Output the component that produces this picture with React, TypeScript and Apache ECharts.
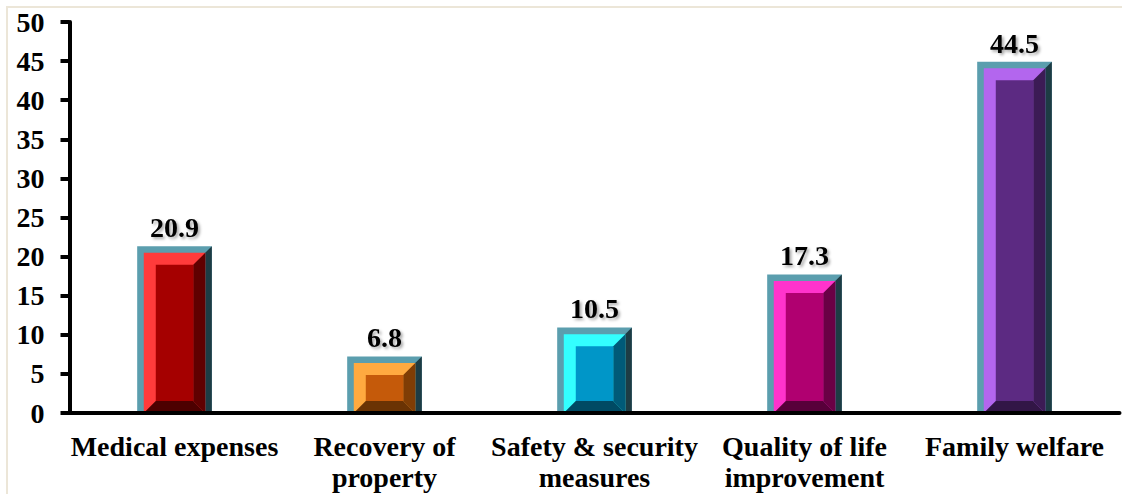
import React, { useEffect, useRef } from "react";
import * as echarts from "echarts";

const categories = [
  "Medical expenses",
  "Recovery of\nproperty",
  "Safety & security\nmeasures",
  "Quality of life\nimprovement",
  "Family welfare",
];
const values = [20.9, 6.8, 10.5, 17.3, 44.5];
const lightColors = ["#ff3b3b", "#ffaa40", "#33ffff", "#ff33cc", "#b366ee"];
const faceColors = ["#a50000", "#c55a0a", "#0096c8", "#b00070", "#5c2a82"];
const rightColors = ["#600000", "#7f3d05", "#005a78", "#6a0045", "#3c1b55"];
const bottomColors = ["#4d0000", "#6a3304", "#004a64", "#58003a", "#321646"];
const FRAME = "#5b9eae";
const FRAME_DARK = "#1d3c44";
const FONT = "'Liberation Serif', 'Times New Roman', serif";

export default function App() {
  const ref = useRef<HTMLDivElement>(null);
  useEffect(() => {
    if (!ref.current) return;
    const chart = echarts.init(ref.current, null, { renderer: "svg" });
    const renderItem = (params: any, api: any) => {
      const i = api.value(0);
      const v = api.value(1);
      const top = api.coord([i, v]);
      const base = api.coord([i, 0]);
      const w = api.size([1, 0])[0] * 0.324;
      const cx = top[0];
      const x0 = cx - w / 2;
      const x1 = cx + w / 2;
      const y0 = top[1];
      const y1 = base[1];
      const o = 3.3;
      const b = 12;
      const L = x0 - o, R = x1 + o, T = y0 - o, B = y1;
      const l = x0 + o, r = x1 - o, t = y0 + o;
      return {
        type: "group",
        children: [
          { type: "rect", shape: { x: L, y: T, width: R - L, height: B - T }, style: { fill: FRAME } },
          { type: "polygon", shape: { points: [[R, T], [R, B], [r, B], [r, t]] }, style: { fill: FRAME_DARK } },
          { type: "rect", shape: { x: l, y: t, width: r - l, height: B - t }, style: { fill: lightColors[i] } },
          { type: "polygon", shape: { points: [[r, t], [r, B], [r - b, B - b], [r - b, t + b]] }, style: { fill: rightColors[i] } },
          { type: "polygon", shape: { points: [[l, B], [r, B], [r - b, B - b], [l + b, B - b]] }, style: { fill: bottomColors[i] } },
          { type: "rect", shape: { x: l + b, y: t + b, width: r - l - 2 * b, height: Math.max(0, B - t - 2 * b) }, style: { fill: faceColors[i] } },
          {
            type: "text",
            x: cx,
            y: y0 - 8,
            style: {
              text: String(values[i]),
              align: "center",
              verticalAlign: "bottom",
              fontFamily: FONT,
              fontWeight: "bold",
              fontSize: 28,
              fill: "#000",
              textShadowColor: "rgba(0,0,0,0.35)",
              textShadowBlur: 3,
              textShadowOffsetX: 2,
              textShadowOffsetY: 2,
            },
          },
        ],
      };
    };
    chart.setOption({
      animation: false,
      backgroundColor: "#ffffff",
      grid: { left: 69.5, right: 2.5, top: 22, bottom: 81, containLabel: false },
      graphic: [
        {
          type: "rect",
          shape: { x: 7, y: 7, width: 1130, height: 500 },
          style: { fill: "none", stroke: "#ece6d8", lineWidth: 2 },
          z: -1,
        },
      ],
      xAxis: {
        type: "category",
        data: categories,
        z: 10,
        axisLine: { lineStyle: { color: "#000", width: 4 } },
        axisTick: { show: false },
        axisLabel: {
          interval: 0,
          margin: 18,
          color: "#000",
          fontFamily: FONT,
          fontWeight: "bold",
          fontSize: 28,
          lineHeight: 31,
        },
      },
      yAxis: {
        type: "value",
        min: 0,
        max: 50,
        interval: 5,
        z: 10,
        splitLine: { show: false },
        axisLine: { show: true, lineStyle: { color: "#000", width: 4 } },
        axisTick: { show: true, length: 9, lineStyle: { color: "#000", width: 4 } },
        axisLabel: {
          margin: 25,
          color: "#000",
          fontFamily: FONT,
          fontWeight: "bold",
          fontSize: 28,
        },
      },
      series: [
        {
          type: "custom",
          renderItem,
          encode: { x: 0, y: 1 },
          data: values.map((v, i) => [i, v]),
          z: 2,
        },
      ],
    });
    return () => chart.dispose();
  }, []);
  return (
    <div
      ref={ref}
      style={{ position: "absolute", left: 0, top: 0, width: 1122, height: 494 }}
    />
  );
}
